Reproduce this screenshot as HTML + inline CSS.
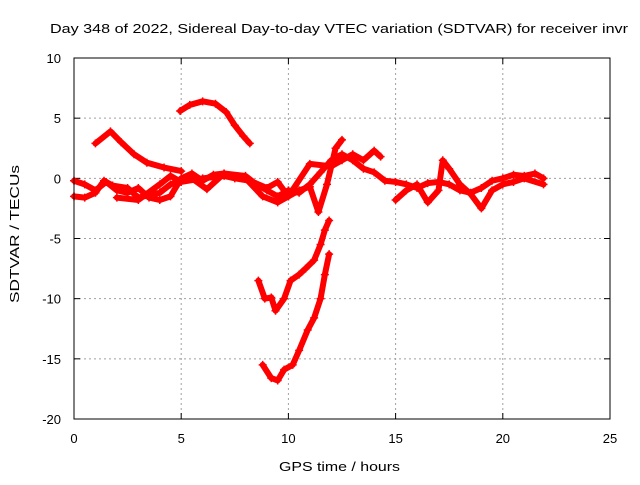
<!DOCTYPE html>
<html><head><meta charset="utf-8"><style>
body{margin:0;background:#fff}
svg text{font-family:"Liberation Sans",Arial,sans-serif;font-size:13px;fill:#000}
</style></head><body>
<svg id="chart" width="640" height="480" xmlns="http://www.w3.org/2000/svg">
<rect width="640" height="480" fill="#fff"/>
<text x="50" y="33" font-size="16" textLength="578" lengthAdjust="spacingAndGlyphs">Day 348 of 2022, Sidereal Day-to-day VTEC variation (SDTVAR) for receiver invr</text>
<text x="279" y="471" font-size="16" textLength="121" lengthAdjust="spacingAndGlyphs">GPS time / hours</text>
<text transform="translate(19,303) rotate(-90)" font-size="16" textLength="138" lengthAdjust="spacingAndGlyphs">SDTVAR / TECUs</text>
<g id="grid"></g><g id="ticks"></g><g id="series"></g>
<rect x="74" y="58" width="536" height="361" fill="none" stroke="#000" stroke-width="1"/>
</svg>
<script>
const xTicks=[0,5,10,15,20,25];
const yTicks=[10,5,0,-5,-10,-15,-20];
const trackArch=[[4.95,5.6],[5.4,6.1],[6.0,6.4],[6.6,6.2],[7.1,5.5],[7.5,4.4],[7.9,3.5],[8.2,2.9]];
const trackRise=[[1.0,2.9],[1.7,3.9],[2.2,3.0],[2.8,2.0],[3.4,1.3],[4.2,0.9],[5.0,0.6]];
const trackMain=[[0,-0.2],[0.5,-0.5],[1,-1],[1.5,-0.3],[2,-1],[2.5,-1.2],[3,-0.8],[3.5,-1.6],[4,-1.8],[4.5,-1.5],[5,0],[5.5,0.4],[6,-0.2],[6.5,0.3],[7,0.4],[8,0.2],[8.5,-0.5],[9,-1],[9.5,-1.5],[10,-1],[10.5,-1.2],[11,-0.5],[11.5,0.5],[12,1.5],[12.5,2],[13,1.5],[13.5,0.8],[14,0.5],[14.5,-0.2],[15,-0.3],[15.5,-0.5],[16,-0.8],[16.5,-0.4],[17,-0.3],[17.5,-0.5],[18,-1],[18.5,-1.2],[19,-0.8],[19.5,-0.2],[20,0],[20.5,0.3],[21,0.2],[21.5,0.4],[21.9,0]];
const trackLow=[[0,-1.5],[0.5,-1.6],[1,-1.2],[1.4,-0.2],[1.8,-0.6],[2.5,-0.8],[3,-1.6],[3.5,-1.4],[4,-1.2],[4.5,-0.5],[5,-0.2],[5.5,0],[6.2,-0.9],[7,0.4],[8,0],[8.8,-1.5],[9.5,-2],[10,-1.5],[10.5,-1],[11,-0.7],[11.4,-2.8],[11.8,-0.5],[12.2,2.5],[12.5,3.2]];
const trackMid=[[2,-1.6],[3,-1.8],[4,-0.5],[4.5,0.2],[5,-0.3],[6,0],[7,0.2],[7.5,0],[8.2,-0.2],[9,-0.8],[9.5,-0.3],[10,-1.5],[11,1.2],[12,1],[12.5,1.5],[13,2],[13.5,1.5],[14,2.3],[14.3,1.8]];
const trackLate=[[15,-1.8],[15.5,-1],[16,-0.5],[16.5,-2],[17,-1],[17.2,1.5],[17.5,0.8],[18,-0.5],[18.5,-1.3],[19,-2.5],[19.5,-1],[20,-0.5],[20.5,-0.3],[21,0],[21.9,-0.5]];
const trackDip=[[8.6,-8.5],[8.9,-10],[9.2,-9.9],[9.4,-11],[9.8,-10],[10.1,-8.5],[10.5,-8],[10.8,-7.5],[11.2,-6.8],[11.5,-5.5],[11.7,-4.3],[11.9,-3.5]];
const trackDeep=[[8.8,-15.5],[9.2,-16.6],[9.5,-16.8],[9.8,-15.9],[10.2,-15.5],[10.5,-14.3],[10.9,-12.6],[11.2,-11.6],[11.5,-10],[11.7,-8],[11.9,-6.3]];
const tracks=[trackArch,trackRise,trackMain,trackLow,trackMid,trackLate,trackDip,trackDeep];
const trackNames=['track-arch','track-rise','track-main','track-low','track-mid','track-late','track-dip','track-deep'];

const X=h=>74+h*536/25;
const Y=v=>58+(10-v)*361/30;
const NS='http://www.w3.org/2000/svg';
function mk(tag,attrs,parent){const e=document.createElementNS(NS,tag);for(const k in attrs)e.setAttribute(k,attrs[k]);parent.appendChild(e);return e;}
const grid=document.getElementById('grid'),ticks=document.getElementById('ticks'),series=document.getElementById('series');
xTicks.forEach(t=>{
  const x=X(t);
  if(t>0&&t<25){const g=mk('line',{x1:x,x2:x,y1:58,y2:419,stroke:'#a0a0a0','stroke-dasharray':'2,3'},grid);
  
  }
  const l=mk('text',{x:x,y:443,'text-anchor':'middle','font-size':'14.5'},ticks);l.textContent=t;
  
  
  mk('line',{x1:x,x2:x,y1:419,y2:413,stroke:'#000'},ticks);
  mk('line',{x1:x,x2:x,y1:58,y2:64,stroke:'#000'},ticks);
});
yTicks.forEach(t=>{
  const y=Y(t);
  if(t<10&&t>-20){const g=mk('line',{x1:74,x2:610,y1:y,y2:y,stroke:'#a0a0a0','stroke-dasharray':'2,3'},grid);
  
  }
  const l=mk('text',{x:61,y:y+5,'text-anchor':'end','font-size':'14.5'},ticks);l.textContent=t;
  
  
  mk('line',{x1:74,x2:80,y1:y,y2:y,stroke:'#000'},ticks);
  mk('line',{x1:610,x2:604,y1:y,y2:y,stroke:'#000'},ticks);
});
tracks.forEach((tr,i)=>{
  const g=mk('g',{},series);
  
  
  mk('polyline',{points:tr.map(p=>X(p[0])+','+Y(p[1])).join(' '),fill:'none',stroke:'#f00','stroke-width':6,'stroke-linejoin':'round','stroke-linecap':'round'},g);
  tr.forEach(p=>{
    const x=X(p[0]),y=Y(p[1]);
    const m=mk('path',{d:`M${x-4},${y}H${x+4}M${x},${y-4}V${y+4}`,stroke:'#f00','stroke-width':1.5},g);
    
    
  });
});
</script>
</body></html>
